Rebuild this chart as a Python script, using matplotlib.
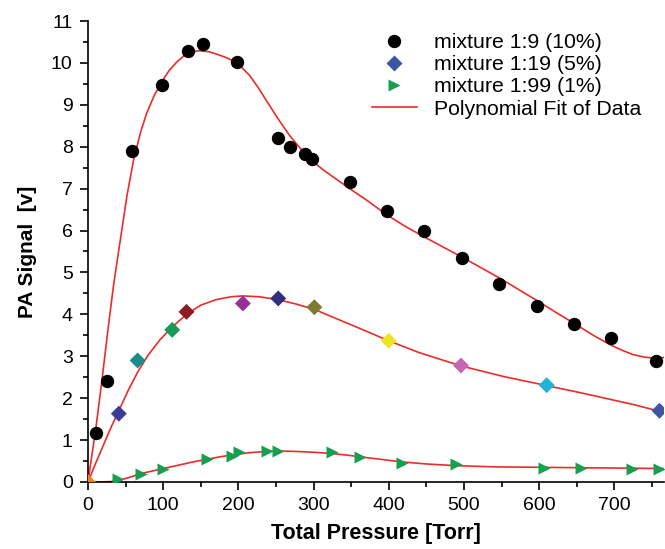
import numpy as np
import matplotlib
matplotlib.use("Agg")
import matplotlib.pyplot as plt
from matplotlib.ticker import MultipleLocator
from matplotlib.lines import Line2D

plt.rcParams['font.family'] = ['Liberation Sans', 'DejaVu Sans']

# 10% mixture (black circles)
p10 = [10, 25, 58, 98, 133, 153, 198, 253, 268, 288, 298, 348, 397, 447, 497, 547, 597, 646, 696, 755]
s10 = [1.17, 2.41, 7.90, 9.48, 10.29, 10.45, 10.02, 8.22, 8.00, 7.82, 7.70, 7.15, 6.46, 5.99, 5.35, 4.73, 4.21, 3.77, 3.44, 2.89]

# 5% mixture (diamonds, each point coloured)
p5 = [0, 41, 66, 112, 131, 206, 253, 301, 400, 496, 610, 760]
s5 = [0.0, 1.63, 2.90, 3.63, 4.06, 4.26, 4.38, 4.17, 3.37, 2.78, 2.31, 1.70]
c5 = ['#f0821e', '#3a3d98', '#1a8c8e', '#1a9a55', '#8c1b22', '#97309a', '#2e2f7e',
      '#7c7b33', '#ece424', '#c866b3', '#22b4d6', '#3c56a6']

# 1% mixture (green triangles)
p1 = [40, 70, 100, 158, 191, 201, 238, 253, 324, 362, 417, 489, 607, 656, 724, 760]
s1 = [0.08, 0.20, 0.30, 0.55, 0.61, 0.72, 0.74, 0.74, 0.72, 0.60, 0.45, 0.44, 0.34, 0.34, 0.32, 0.31]

# polynomial fit curves
fit10_x = [0, 5, 10, 18, 27, 34, 44, 52, 61, 70, 78, 88, 98, 108, 118, 127, 136, 147, 160, 171,
           182, 193, 204, 215, 226, 238, 253, 268, 288, 298, 312, 326, 348, 371, 397, 420, 447,
           472, 497, 522, 547, 572, 597, 622, 646, 672, 696, 712, 725, 740, 755, 766]
fit10_y = [0.0, 0.62, 1.22, 2.35, 3.70, 4.70, 5.90, 6.85, 7.72, 8.35, 8.80, 9.22, 9.55, 9.82, 10.02,
           10.16, 10.25, 10.29, 10.27, 10.21, 10.14, 10.05, 9.90, 9.70, 9.42, 9.08, 8.66, 8.27,
           7.84, 7.66, 7.46, 7.28, 7.00, 6.72, 6.38, 6.12, 5.85, 5.61, 5.37, 5.12, 4.87, 4.60,
           4.33, 4.05, 3.79, 3.50, 3.26, 3.13, 3.04, 2.98, 2.95, 2.97]

fit5_x = [0, 10, 20, 30, 41, 53, 66, 80, 96, 112, 131, 150, 170, 190, 206, 228, 253, 276, 301, 330,
          362, 400, 440, 496, 552, 610, 650, 685, 725, 766]
fit5_y = [0.0, 0.44, 0.86, 1.28, 1.70, 2.17, 2.62, 3.03, 3.40, 3.70, 4.00, 4.22, 4.35, 4.42, 4.44,
          4.42, 4.35, 4.25, 4.12, 3.90, 3.66, 3.37, 3.09, 2.77, 2.52, 2.30, 2.15, 2.01, 1.85, 1.66]

fit1_x = [0, 15, 30, 40, 55, 70, 85, 100, 120, 140, 158, 175, 193, 215, 238, 253, 275, 300, 324,
          345, 362, 390, 417, 450, 489, 543, 607, 656, 724, 766]
fit1_y = [0.0, 0.0, 0.01, 0.03, 0.11, 0.20, 0.26, 0.32, 0.40, 0.48, 0.54, 0.60, 0.65, 0.70, 0.73,
          0.74, 0.73, 0.71, 0.68, 0.64, 0.60, 0.54, 0.48, 0.43, 0.39, 0.36, 0.35, 0.34, 0.33, 0.32]

labels = ['mixture 1:9 (10%)', 'mixture 1:19 (5%)', 'mixture 1:99 (1%)', 'Polynomial Fit of Data']
fit_color = '#ee2b2b'

fig = plt.figure(figsize=(6.65, 5.49), dpi=100)
ax = fig.add_axes([88/665, 1-482/549, 576/665, 461/549])

for fx, fy in [(fit10_x, fit10_y), (fit5_x, fit5_y), (fit1_x, fit1_y)]:
    ax.plot(fx, fy, color=fit_color, lw=1.2, zorder=2, solid_joinstyle='round')

ax.plot(p10, s10, 'o', color='black', ms=8.6, ls='none', zorder=3)
ax.scatter(p5, s5, marker='D', c=c5, s=66, linewidths=0, zorder=3)
ax.plot(p1, s1, '>', color='#179e4e', ms=9, ls='none', mec='none', zorder=3)

ax.set_xlim(0, 766)
ax.set_ylim(0, 11)
ax.xaxis.set_major_locator(MultipleLocator(100))
ax.xaxis.set_minor_locator(MultipleLocator(50))
ax.yaxis.set_major_locator(MultipleLocator(1))
ax.yaxis.set_minor_locator(MultipleLocator(0.5))
ax.tick_params(which='major', direction='out', length=6, width=1.2, labelsize=14, pad=5)
ax.tick_params(which='minor', direction='out', length=3.5, width=1.2)
for side in ['top', 'right']:
    ax.spines[side].set_visible(False)
for side in ['left', 'bottom']:
    ax.spines[side].set_linewidth(1.2)

ax.set_xlabel('Total Pressure [Torr]', fontsize=15.5, fontweight='bold', labelpad=6)
ax.set_ylabel('PA Signal  [v]', fontsize=15, fontweight='bold', labelpad=10)

handles = [
    Line2D([], [], marker='o', color='black', ls='none', ms=8.6),
    Line2D([], [], marker='D', color='#3c56a6', ls='none', ms=7.8, mec='none'),
    Line2D([], [], marker='>', color='#179e4e', ls='none', ms=9, mec='none'),
    Line2D([], [], color=fit_color, lw=1.2),
]
leg = ax.legend(handles, labels, loc='upper right', bbox_to_anchor=(641/665, 1-33/549),
                bbox_transform=fig.transFigure, frameon=False, fontsize=15.3,
                handlelength=2.1, handletextpad=0.8, labelspacing=0.15, borderpad=0,
                borderaxespad=0)

fig.savefig('out.png', dpi=100)
